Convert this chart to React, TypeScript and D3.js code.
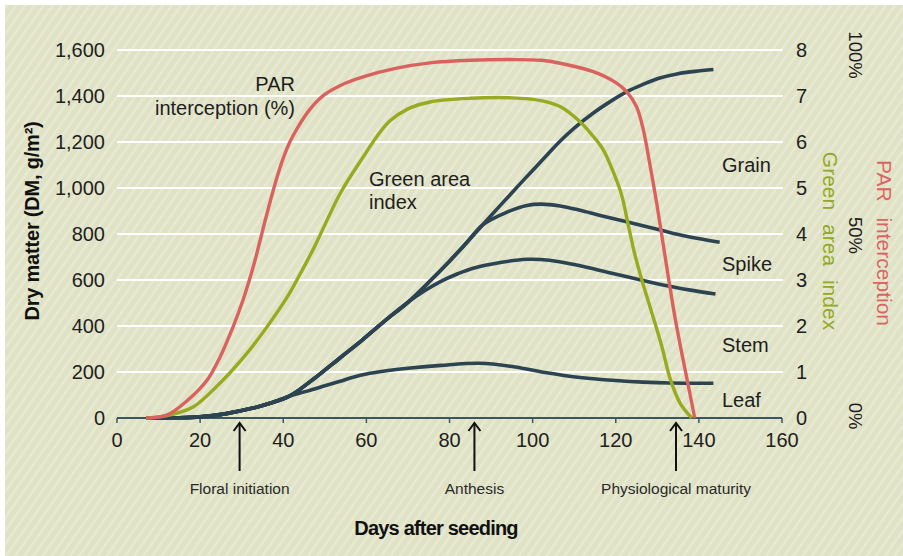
import React from "react";
import * as d3 from "d3";

// ---------- DATA ----------
const xTicks = [0, 20, 40, 60, 80, 100, 120, 140, 160];
const dmTicks = [0, 200, 400, 600, 800, 1000, 1200, 1400, 1600];
const gaiTicks = [0, 1, 2, 3, 4, 5, 6, 7, 8];
const parTicks = [0, 50, 100];

// Dry matter (g/m2), cumulative top lines, [day, value]
const leafTop: [number, number][] = [
  [7, 0], [14, 1], [20, 5], [26, 18], [32.7, 43], [37, 65], [41.6, 96], [46, 118], [50, 140],
  [53.7, 160], [57, 178], [60, 191], [64, 203], [70, 216], [78, 229], [87.3, 238], [95.4, 223],
  [103.4, 197], [108, 184], [114.6, 171], [120, 163], [126.6, 156], [133, 152], [143.5, 151],
];
const earlyShared: [number, number][] = [
  [7, 0], [14, 1], [20, 5], [26, 18], [32.7, 43], [37, 65], [41.6, 96],
];
const stemBranch: [number, number][] = [
  [47.7, 175], [53.7, 262], [59, 339], [64, 416], [70, 503],
];
const stemTail: [number, number][] = [
  [74, 553], [77.7, 592], [82, 627], [85.7, 651], [92.2, 676], [98.6, 690], [104, 686],
  [111.4, 662], [118, 634], [125.8, 601], [132, 576], [138, 556], [144, 539],
];
const mainRise: [number, number][] = [
  [75, 590], [80, 682], [84, 760], [88, 840],
];
const spikeTail: [number, number][] = [
  [93.8, 895], [98.6, 924], [102, 930], [106.6, 922], [111.4, 903], [116, 882],
  [122.6, 853], [130.7, 817], [137, 790], [145, 764],
];
const grainTail: [number, number][] = [
  [92, 920], [97.7, 1032], [102, 1115], [106.6, 1203], [110, 1260], [114.6, 1326],
  [118, 1368], [122.7, 1419], [126.5, 1450], [130.6, 1478], [135, 1497], [139, 1507], [143.5, 1515],
];

// Green area index [day, GAI]
const greenArea: [number, number][] = [
  [7, 0], [12.8, 0.07], [18.3, 0.24], [24.8, 0.76], [31.3, 1.41], [36, 1.97], [40.9, 2.62],
  [44, 3.12], [47.5, 3.72], [53.7, 4.88], [59.2, 5.67], [63, 6.18], [65.7, 6.46], [70, 6.72],
  [75.3, 6.87], [85, 6.95], [95, 6.96], [102, 6.9], [106.6, 6.77], [111.4, 6.44], [114.6, 6.12],
  [117, 5.83], [119.4, 5.35], [121.4, 4.85], [123, 4.2], [124.6, 3.55], [126.6, 2.9],
  [128.7, 2.28], [131.1, 1.55], [133.1, 0.85], [135.5, 0.32], [138.3, 0],
];

// PAR interception [day, %]
const parInterception: [number, number][] = [
  [7, 0], [12, 0.8], [16.8, 4.6], [21.7, 10.3], [24.8, 16.6], [27.9, 24.7], [30.3, 32],
  [33, 42], [35.5, 53], [37.5, 61.5], [39.5, 69], [41.5, 74.8], [43.5, 79], [46.5, 84],
  [49.6, 87.6], [54, 90.5], [59.2, 92.7], [67, 95], [75.3, 96.5], [85, 97.2], [95, 97.4],
  [102, 97.2], [106.6, 96.4], [114.6, 94.1], [120.2, 91], [122.6, 88.7], [125, 84.6],
  [126.6, 78.5], [128.2, 69], [129.9, 58], [131.3, 48], [132.7, 38], [134.3, 27],
  [136, 17], [137.6, 8], [139, 0],
];

const stageNames = ["Floral initiation", "Anthesis", "Physiological maturity"];
const stageDays = [29.5, 86, 134.5];

const componentNames = ["Grain", "Spike", "Stem", "Leaf"];
const componentLabelDM = [1100, 670, 320, 80];

// ---------- STYLE ----------
const FONT = "'Liberation Sans', Arial, Helvetica, sans-serif";
const DARK = "#2c4452";
const RED = "#d9625f";
const GREEN = "#98aa1f";
const TEXT = "#1e1e1e";

export default function App() {
  const x = d3.scaleLinear().domain([0, 160]).range([117, 782]);
  const y = d3.scaleLinear().domain([0, 1600]).range([418, 50]);
  const g = d3.scaleLinear().domain([0, 8]).range([418, 50]);
  const pLab = d3.scaleLinear().domain([0, 100]).range([416, 55]);
  const p = d3.scaleLinear().domain([0, 100]).range([418, 50]);

  const curve = d3.curveCatmullRom.alpha(0.5);
  const dmLine = d3
    .line<[number, number]>()
    .x((d) => x(d[0]))
    .y((d) => y(d[1]))
    .curve(curve);
  const gLine = d3
    .line<[number, number]>()
    .x((d) => x(d[0]))
    .y((d) => g(d[1]))
    .curve(curve);
  const pLine = d3
    .line<[number, number]>()
    .x((d) => x(d[0]))
    .y((d) => p(d[1]))
    .curve(curve);

  const stemTop = [...earlyShared, ...stemBranch, ...stemTail];
  const spikeTop = [...earlyShared, ...stemBranch, ...mainRise, ...spikeTail];
  const grainTop = [...earlyShared, ...stemBranch, ...mainRise, ...grainTail];

  const labelX = 722;

  return (
    <svg
      width={903}
      height={556}
      style={{ position: "absolute", left: 0, top: 0 }}
      fontFamily={FONT}
    >
      <defs>
        <pattern
          id="stripes"
          patternUnits="userSpaceOnUse"
          width={7.5}
          height={20}
          patternTransform="rotate(35)"
        >
          <rect width={7.5} height={20} fill="#dfe2c4" />
          <rect x={0} width={2.6} height={20} fill="#e7e9d3" />
        </pattern>
      </defs>
      <rect x={0} y={0} width={903} height={556} fill="#ffffff" />
      <rect x={5} y={5} width={898} height={551} fill="url(#stripes)" />

      {/* gridlines */}
      {dmTicks.filter((t) => t > 0).map((t) => (
        <line key={t} x1={117} x2={783} y1={y(t)} y2={y(t)} stroke="#ffffff" strokeWidth={2} />
      ))}

      {/* x axis */}
      <line x1={x(0)} x2={x(160)} y1={418} y2={418} stroke="#3d5563" strokeWidth={1.8} />
      {xTicks.map((t) => (
        <g key={t}>
          <line x1={x(t)} x2={x(t)} y1={418} y2={423} stroke="#3d5563" strokeWidth={1.5} />
          <text x={x(t)} y={447} textAnchor="middle" fontSize={20} fill={TEXT}>
            {t}
          </text>
        </g>
      ))}

      {/* left axis labels */}
      {dmTicks.map((t) => (
        <text key={t} x={105} y={y(t)} dy="0.36em" textAnchor="end" fontSize={20} fill={TEXT}>
          {d3.format(",")(t)}
        </text>
      ))}
      {/* right GAI labels */}
      {gaiTicks.map((t) => (
        <text key={t} x={796} y={g(t)} dy="0.36em" textAnchor="start" fontSize={20} fill={TEXT}>
          {t}
        </text>
      ))}
      {/* right PAR % labels */}
      {parTicks.map((t) => (
        <text
          key={t}
          transform={`translate(849,${pLab(t)}) rotate(90)`}
          textAnchor="middle"
          fontSize={18.5}
          fill={TEXT}
        >
          {t}%
        </text>
      ))}

      {/* axis titles */}
      <text
        transform="translate(39,221) rotate(-90)"
        textAnchor="middle"
        fontSize={20}
        fontWeight="bold"
        fill="#111"
        letterSpacing={-0.2}
      >
        Dry matter (DM, g/m²)
      </text>
      <text
        x={436}
        y={535}
        textAnchor="middle"
        fontSize={20}
        fontWeight="bold"
        fill="#111"
        letterSpacing={-0.8}
      >
        Days after seeding
      </text>
      <text
        transform="translate(823,241) rotate(90)"
        textAnchor="middle"
        fontSize={21}
        fill="#93a826"
        wordSpacing={8}
      >
        Green area index
      </text>
      <text
        transform="translate(877,243) rotate(90)"
        textAnchor="middle"
        fontSize={21}
        fill="#db6462"
        wordSpacing={10}
      >
        PAR interception
      </text>

      {/* dry matter lines */}
      {[leafTop, stemTop, spikeTop, grainTop].map((d, i) => (
        <path
          key={i}
          d={dmLine(d) || ""}
          fill="none"
          stroke={DARK}
          strokeWidth={3.6}
          strokeLinecap="butt"
        />
      ))}

      {/* green area index */}
      <path d={gLine(greenArea) || ""} fill="none" stroke={GREEN} strokeWidth={3.4} />
      {/* PAR interception */}
      <path d={pLine(parInterception) || ""} fill="none" stroke={RED} strokeWidth={3.4} />

      {/* series labels */}
      <text x={295} y={91} textAnchor="end" fontSize={20} fill={TEXT}>
        PAR
      </text>
      <text x={295} y={115} textAnchor="end" fontSize={20} fill={TEXT}>
        interception (%)
      </text>
      <text x={369} y={186} textAnchor="start" fontSize={20} fill={TEXT}>
        Green area
      </text>
      <text x={369} y={209} textAnchor="start" fontSize={20} fill={TEXT}>
        index
      </text>
      {componentNames.map((n, i) => (
        <text key={n} x={labelX} y={y(componentLabelDM[i])} dy="0.36em" fontSize={20} fill={TEXT}>
          {n}
        </text>
      ))}

      {/* stage arrows */}
      {stageNames.map((n, i) => {
        const sx = x(stageDays[i]);
        return (
          <g key={n}>
            <line x1={sx} x2={sx} y1={423} y2={471} stroke="#111" strokeWidth={2} />
            <path
              d={`M${sx - 6},${431} L${sx},${423} L${sx + 6},${431}`}
              fill="none"
              stroke="#111"
              strokeWidth={2}
            />
            <text x={sx} y={494} textAnchor="middle" fontSize={15.5} fill="#2a2a2a">
              {n}
            </text>
          </g>
        );
      })}
    </svg>
  );
}
